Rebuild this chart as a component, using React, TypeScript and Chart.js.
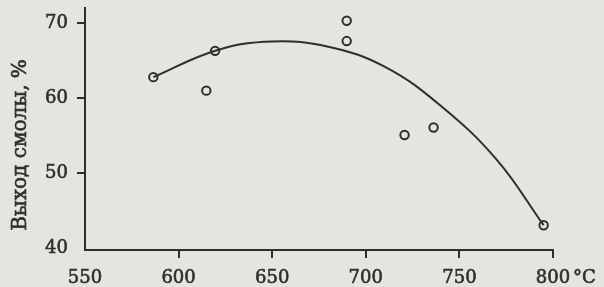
import React, { useEffect, useRef } from "react";
import { Chart, registerables } from "chart.js";

Chart.register(...registerables);

// Fitted curve
const curveTemp = [586.5, 620, 650, 680, 710, 740, 770, 795];
const curveYield = [62.8, 66.35, 67.55, 66.85, 64.2, 59.0, 51.8, 43.1];

// Measured points
const pointTemp = [586.5, 619.5, 614.8, 689.8, 689.8, 720.7, 736.2, 795];
const pointYield = [62.8, 66.3, 61.0, 70.3, 67.6, 55.1, 56.1, 43.1];

const xTicks = [550, 600, 650, 700, 750, 800];
const yTicks = [40, 50, 60, 70];
const yTitle = "Выход смолы, %";
const xUnit = "°C";

const BG = "#e4e4e0";
const INK = "#2e2e2e";
const FONT = "DejaVu Serif";

export default function App() {
  const ref = useRef<HTMLCanvasElement | null>(null);

  useEffect(() => {
    if (!ref.current) return;
    const extraText = {
      id: "extraText",
      afterDraw(chart: any) {
        const ctx = chart.ctx;
        const xa = chart.scales.x;
        ctx.save();
        ctx.fillStyle = INK;
        ctx.strokeStyle = INK;
        ctx.lineWidth = 0.6;
        ctx.font = `20px "${FONT}"`;
        ctx.translate(21, 145);
        ctx.rotate(-Math.PI / 2);
        ctx.textAlign = "center";
        ctx.textBaseline = "middle";
        ctx.strokeText(yTitle, 0, 0);
        ctx.fillText(yTitle, 0, 0);
        ctx.restore();

        ctx.save();
        ctx.fillStyle = INK;
        ctx.strokeStyle = INK;
        ctx.lineWidth = 0.6;
        ctx.font = `18px "${FONT}"`;
        ctx.textAlign = "left";
        ctx.textBaseline = "middle";
        ctx.strokeText(xUnit, xa.getPixelForValue(800) + 20, 278);
        ctx.fillText(xUnit, xa.getPixelForValue(800) + 20, 278);
        ctx.restore();
      },
    };

    const chart = new Chart(ref.current, {
      type: "scatter",
      data: {
        datasets: [
          {
            label: "curve",
            data: curveTemp.map((t, i) => ({ x: t, y: curveYield[i] })),
            showLine: true,
            borderColor: INK,
            borderWidth: 2,
            pointRadius: 0,
            tension: 0.4,
            fill: false,
          } as any,
          {
            label: "points",
            data: pointTemp.map((t, i) => ({ x: t, y: pointYield[i] })),
            showLine: false,
            pointRadius: 4.2,
            pointBorderWidth: 2,
            pointBorderColor: INK,
            pointBackgroundColor: BG,
          } as any,
        ],
      },
      options: {
        responsive: false,
        animation: false,
        layout: { padding: { top: 8, right: 51, left: 0, bottom: 0 } },
        plugins: {
          legend: { display: false },
          tooltip: { enabled: false },
        },
        scales: {
          x: {
            type: "linear",
            min: 550,
            max: 800,
            afterBuildTicks: (s: any) => {
              s.ticks = xTicks.map((v) => ({ value: v }));
            },
            afterFit: (s: any) => {
              s.height = 37;
              s.paddingLeft = 0;
              s.paddingRight = 0;
            },
            border: { display: true, color: INK, width: 2 },
            grid: {
              drawOnChartArea: false,
              drawTicks: true,
              tickLength: 8,
              lineWidth: 2,
              color: (c: any) => (c.index === 0 ? "rgba(0,0,0,0)" : INK),
            },
            ticks: {
              color: INK,
              font: { family: FONT, size: 18 },
              textStrokeColor: INK,
              textStrokeWidth: 0.6,
              padding: 10,
              maxRotation: 0,
              autoSkip: false,
            },
          },
          y: {
            type: "linear",
            min: 39.8,
            max: 72,
            afterBuildTicks: (s: any) => {
              s.ticks = yTicks.map((v) => ({ value: v }));
            },
            afterFit: (s: any) => {
              s.width = 85;
              s.paddingTop = 0;
              s.paddingBottom = 0;
            },
            border: { display: true, color: INK, width: 2 },
            grid: {
              drawOnChartArea: false,
              drawTicks: true,
              tickLength: 8,
              lineWidth: 2,
              color: (c: any) => (c.index === 0 ? "rgba(0,0,0,0)" : INK),
            },
            ticks: {
              color: INK,
              font: { family: FONT, size: 18 },
              textStrokeColor: INK,
              textStrokeWidth: 0.6,
              padding: 9,
              autoSkip: false,
            },
          },
        },
      },
      plugins: [extraText],
    } as any);
    return () => chart.destroy();
  }, []);

  return (
    <div style={{ position: "fixed", left: 0, top: 0, width: 604, height: 287, background: BG }}>
      <canvas ref={ref} width={604} height={287} style={{ display: "block" }} />
    </div>
  );
}
